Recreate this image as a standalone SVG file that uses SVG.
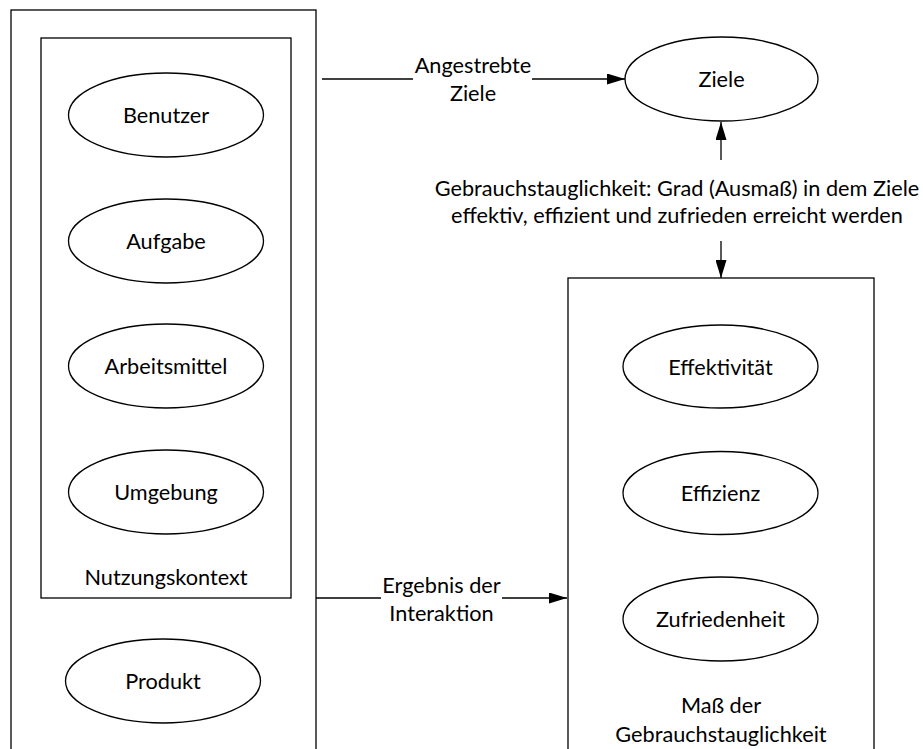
<svg xmlns="http://www.w3.org/2000/svg" width="923" height="749" viewBox="0 0 923 749">
<style>
  .box { fill: none; stroke: #000; stroke-width: 1.3; }
  .ell { fill: #fff; stroke: #000; stroke-width: 1.3; }
  .lbl { font-family: Lato, "Open Sans", "Liberation Sans", sans-serif; font-size: 21.7px; fill: #000; text-anchor: middle; }
  .edge { fill: none; stroke: #000; stroke-width: 1.3; }
</style>
<defs>
  <marker id="arrow" markerUnits="userSpaceOnUse" markerWidth="18" markerHeight="11" refX="18" refY="5.5" orient="auto">
    <path d="M0,0 L18,5.5 L0,11 z" fill="#000"/>
  </marker>
</defs>
<rect width="923" height="749" fill="#fff"/>

<g id="produktsystem">
  <rect class="box" x="11" y="10" width="305" height="760"/>
</g>
<g id="nutzungskontext">
  <rect class="box" x="41" y="38" width="250" height="560"/>
  <text class="lbl" x="166" y="585">Nutzungskontext</text>
</g>
<g id="benutzer">
  <ellipse class="ell" cx="166" cy="115" rx="97.5" ry="42"/>
  <text class="lbl" x="166" y="123">Benutzer</text>
</g>
<g id="aufgabe">
  <ellipse class="ell" cx="166" cy="241" rx="97.5" ry="42"/>
  <text class="lbl" x="166" y="249">Aufgabe</text>
</g>
<g id="arbeitsmittel">
  <ellipse class="ell" cx="166" cy="366" rx="97.5" ry="42"/>
  <text class="lbl" x="166" y="374">Arbeitsmittel</text>
</g>
<g id="umgebung">
  <ellipse class="ell" cx="166" cy="492" rx="97.5" ry="42"/>
  <text class="lbl" x="166" y="500">Umgebung</text>
</g>
<g id="produkt">
  <ellipse class="ell" cx="163" cy="681" rx="97.5" ry="42"/>
  <text class="lbl" x="163" y="689">Produkt</text>
</g>
<g id="ziele">
  <ellipse class="ell" cx="721.5" cy="79" rx="96.5" ry="42"/>
  <text class="lbl" x="721.5" y="87">Ziele</text>
</g>
<g id="mass">
  <rect class="box" x="568" y="278" width="306" height="492"/>
  <text class="lbl" x="721" y="713">Maß der</text>
  <text class="lbl" x="721" y="742">Gebrauchstauglichkeit</text>
</g>
<g id="effektivitaet">
  <ellipse class="ell" cx="720.5" cy="366.5" rx="97.5" ry="41.5"/>
  <text class="lbl" x="720.5" y="374.5">Effektivität</text>
</g>
<g id="effizienz">
  <ellipse class="ell" cx="720.5" cy="493" rx="97.5" ry="41.5"/>
  <text class="lbl" x="720.5" y="501">Effizienz</text>
</g>
<g id="zufriedenheit">
  <ellipse class="ell" cx="720.5" cy="619" rx="97.5" ry="42"/>
  <text class="lbl" x="720.5" y="627">Zufriedenheit</text>
</g>

<g id="connectors">
  <line class="edge" x1="322" y1="79" x2="413" y2="79"/>
  <line class="edge" x1="532" y1="79" x2="625" y2="79" marker-end="url(#arrow)"/>
  <text class="lbl" x="473" y="73">Angestrebte</text>
  <text class="lbl" x="473" y="101">Ziele</text>

  <line class="edge" x1="316" y1="598" x2="381" y2="598"/>
  <line class="edge" x1="502" y1="598" x2="567" y2="598" marker-end="url(#arrow)"/>
  <text class="lbl" x="441.5" y="593">Ergebnis der</text>
  <text class="lbl" x="441.5" y="621">Interaktion</text>

  <line class="edge" x1="721" y1="160" x2="721" y2="122" marker-end="url(#arrow)"/>
  <line class="edge" x1="721" y1="241" x2="721" y2="278" marker-end="url(#arrow)"/>
  <text class="lbl" x="677" y="196">Gebrauchstauglichkeit: Grad (Ausmaß) in dem Ziele</text>
  <text class="lbl" x="677" y="223">effektiv, effizient und zufrieden erreicht werden</text>
</g>
</svg>
